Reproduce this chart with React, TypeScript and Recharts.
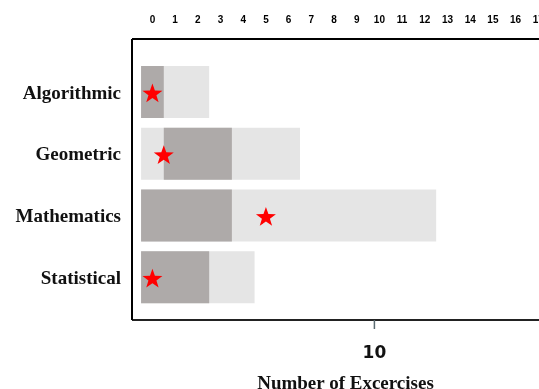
import { ComposedChart, Bar, Scatter, XAxis, YAxis, Label } from 'recharts'

const categories = ['Algorithmic', 'Geometric', 'Mathematics', 'Statistical']
const totalCounts = [3, 7, 13, 5]
const rangeLow = [0, 1, 0, 0]
const rangeHigh = [1, 4, 4, 3]
const starValues = [0.5, 1, 5.5, 0.5]
const topTicks = [0, 1, 2, 3, 4, 5, 6, 7, 8, 9, 10, 11, 12, 13, 14, 15, 16, 17]
const bottomTicks = [10]

const data = categories.map((name, i) => ({
  name,
  total: totalCounts[i],
  range: [rangeLow[i], rangeHigh[i]],
  star: starValues[i]
}))

function Star(props: any) {
  const { cx, cy } = props
  if (cx == null || cy == null) return null
  const outer = 10.5
  const inner = 4.2
  const y0 = cy + 2
  const pts: string[] = []
  for (let k = 0; k < 10; k++) {
    const r = k % 2 === 0 ? outer : inner
    const a = -Math.PI / 2 + (k * Math.PI) / 5
    pts.push(`${cx + r * Math.cos(a)},${y0 + r * Math.sin(a)}`)
  }
  return <polygon points={pts.join(' ')} fill="#ff0000" />
}

export default function App() {
  return (
    <div style={{ position: 'fixed', left: 8, top: 8, width: 531, height: 381, overflow: 'hidden' }}>
      <ComposedChart
        width={531}
        height={381}
        layout="vertical"
        data={data}
        margin={{ top: 0, right: 0, bottom: 0, left: 0 }}
        barSize={52}
        barGap={-52}
      >
        <XAxis
          xAxisId="bars"
          type="number"
          orientation="top"
          domain={[-0.4, 17.53]}
          allowDataOverflow
          height={0}
          hide
        />
        <XAxis
          xAxisId="top"
          orientation="top"
          type="number"
          domain={[-0.9, 17.03]}
          allowDataOverflow
          ticks={topTicks}
          interval={0}
          height={31}
          tickLine={false}
          tickSize={0}
          tickMargin={16}
          axisLine={{ stroke: '#000', strokeWidth: 2 }}
          tick={{ fontSize: 10, fontFamily: 'Liberation Sans', fontWeight: 'bold', fill: '#000' }}
        />
        <XAxis
          xAxisId="bottom"
          orientation="bottom"
          type="number"
          domain={[0, 16.79]}
          allowDataOverflow
          ticks={bottomTicks}
          height={69}
          tickSize={9}
          tickMargin={17}
          tickLine={{ stroke: '#5a6a70', strokeWidth: 1.5 }}
          axisLine={{ stroke: '#222', strokeWidth: 2 }}
          tick={{ fontSize: 17, fontFamily: 'DejaVu Sans', fontWeight: 'bold', fill: '#111' }}
        >
          <Label
            value="Number of Excercises"
            position="insideBottom"
            offset={0}
            dx={10}
            style={{ fontSize: 19, fontFamily: 'Liberation Serif', fontWeight: 'bold', fill: '#111' }}
          />
        </XAxis>
        <YAxis
          type="category"
          dataKey="name"
          width={124}
          padding={{ top: 22, bottom: 12 }}
          tickLine={false}
          tickSize={0}
          tickMargin={11}
          axisLine={{ stroke: '#000', strokeWidth: 2 }}
          tick={{ fontSize: 19, fontFamily: 'Liberation Serif', fontWeight: 'bold', fill: '#111' }}
        />
        <Bar xAxisId="bars" dataKey="total" fill="#e5e5e5" isAnimationActive={false} />
        <Bar xAxisId="bars" dataKey="range" fill="#aeaaa9" isAnimationActive={false} />
        <Scatter xAxisId="bars" dataKey="star" shape={<Star />} isAnimationActive={false} />
      </ComposedChart>
    </div>
  )
}
